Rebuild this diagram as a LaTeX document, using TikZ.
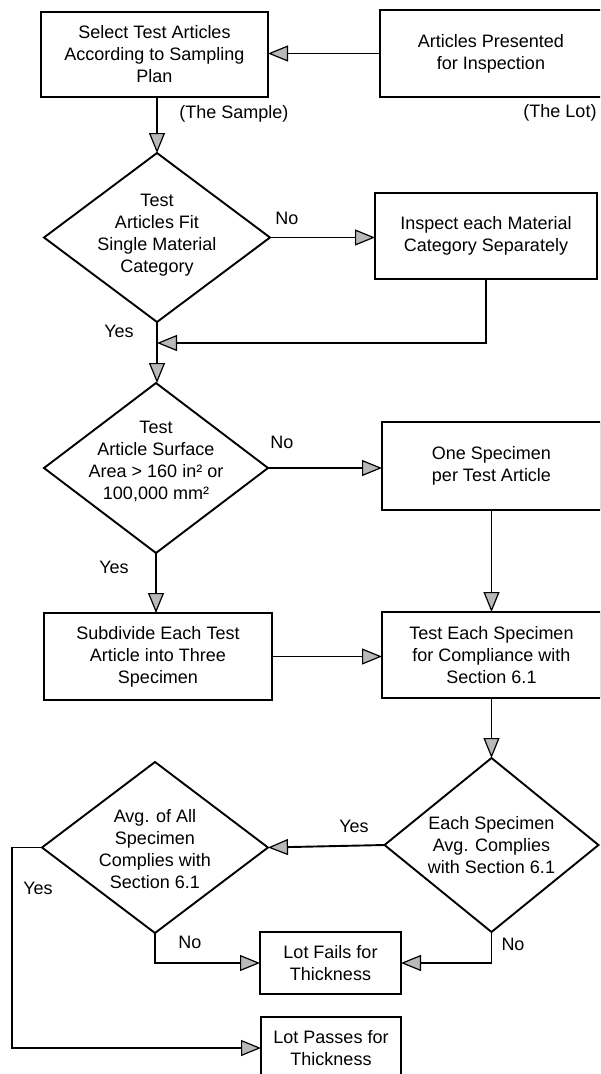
\documentclass[tikz,border=0pt]{standalone}
\usepackage{fontspec}
\setmainfont{Liberation Sans}
\usetikzlibrary{shapes.geometric,arrows.meta,calc}
\begin{document}
\begin{tikzpicture}[x=1pt,y=-1pt,
  box/.style={draw,rectangle,line width=1.9pt,inner sep=0pt,outer sep=0pt,align=center,font=\fontsize{18}{22}\selectfont},
  dia/.style={draw,diamond,line width=1.9pt,inner sep=0pt,outer sep=0pt},
  txt/.style={align=center,inner sep=0pt,font=\fontsize{18}{22}\selectfont},
  lbl/.style={inner sep=0pt,font=\fontsize{18}{22}\selectfont},
  arr/.style={line width=1.9pt,-{Triangle[length=20pt,width=16pt,fill=gray!55,line width=1.2pt]}}]
\useasboundingbox (0,0) rectangle (600,1074);
\clip (0,0) rectangle (600,1074);
\fill[white] (0,0) rectangle (600,1074);
% boxes
\node[box,minimum width=227pt,minimum height=85pt] (b1) at (154.5,54.5) {Select Test Articles\\According to Sampling\\Plan};
\node[box,minimum width=222pt,minimum height=87pt] (b2) at (491,53.5) {Articles Presented\\for Inspection};
\node[box,minimum width=222pt,minimum height=86pt] (b3) at (486,236) {Inspect each Material\\Category Separately};
\node[box,minimum width=219pt,minimum height=88pt] (b4) at (491.5,466) {One Specimen\\per Test Article};
\node[box,minimum width=228pt,minimum height=87pt] (b5) at (158,656.5) {Subdivide Each Test\\Article into Three\\Specimen};
\node[box,minimum width=219pt,minimum height=86pt] (b6) at (491.5,655) {Test Each Specimen\\for Compliance with\\Section 6.1};
\node[box,minimum width=141pt,minimum height=62pt] (b7) at (330.5,963) {Lot Fails for\\Thickness};
\node[box,minimum width=140pt,minimum height=62pt] (b8) at (331,1048) {Lot Passes for\\Thickness};
% diamonds
\node[dia,minimum width=226pt,minimum height=169pt] (d1) at (157,237.5) {};
\node[txt] (d1t) at (157,235) {Test\\Articles Fit\\Single Material\\Category};
\node[dia,minimum width=224pt,minimum height=170pt] (d2) at (156,468) {};
\node[txt] (d2t) at (156,461) {Test\\Article Surface\\Area > 160 in² or\\100,000 mm²};
\node[dia,minimum width=226pt,minimum height=171pt] (d3) at (155,847.5) {};
\node[txt] (d3t) at (155,849) {Avg. of All\\Specimen\\Complies with\\Section 6.1};
\node[dia,minimum width=214pt,minimum height=174pt] (d4) at (491.5,845) {};
\node[txt] (d4t) at (491.5,845) {Each Specimen\\Avg. Complies\\with Section 6.1};
% labels
\node[lbl] (lsample) at (234,114) {(The Sample)};
\node[lbl] (llot) at (560,113) {(The Lot)};
\node[lbl] (ln1) at (287,218) {No};
\node[lbl] (ly1) at (119,331) {Yes};
\node[lbl] (ln2) at (282,442) {No};
\node[lbl] (ly2) at (114,567) {Yes};
\node[lbl] (ly3) at (354,826) {Yes};
\node[lbl] (ly4) at (38,888) {Yes};
\node[lbl] (ln3) at (190,942) {No};
\node[lbl] (ln4) at (513,944) {No};
% connectors
\coordinate (j1) at (157,343);
\coordinate (c1) at (12,847.5);
\draw[arr] (b2.west) -- (b2.west -| b1.east);
\draw[arr] (b1.south -| d1.north) -- (d1.north);
\draw[arr] (d1.east) -- (d1.east -| b3.west);
\draw[arr] (b3.south) |- (j1);
\draw[arr] (d1.south) -- (d1.south |- d2.north);
\draw[arr] (d2.east) -- (d2.east -| b4.west);
\draw[arr] (d2.south) -- (d2.south |- b5.north);
\draw[arr] (b4.south) -- (b6.north);
\draw[arr] (b5.east) -- (b5.east -| b6.west);
\draw[arr] (b6.south) -- (d4.north);
\draw[arr] (d4.west) -- (d3.east);
\draw[arr] (d3.west) -- (c1) |- (b8.west);
\draw[arr] (d3.south) |- (b7.west);
\draw[arr] (d4.south) |- (b7.east);
\end{tikzpicture}
\end{document}
